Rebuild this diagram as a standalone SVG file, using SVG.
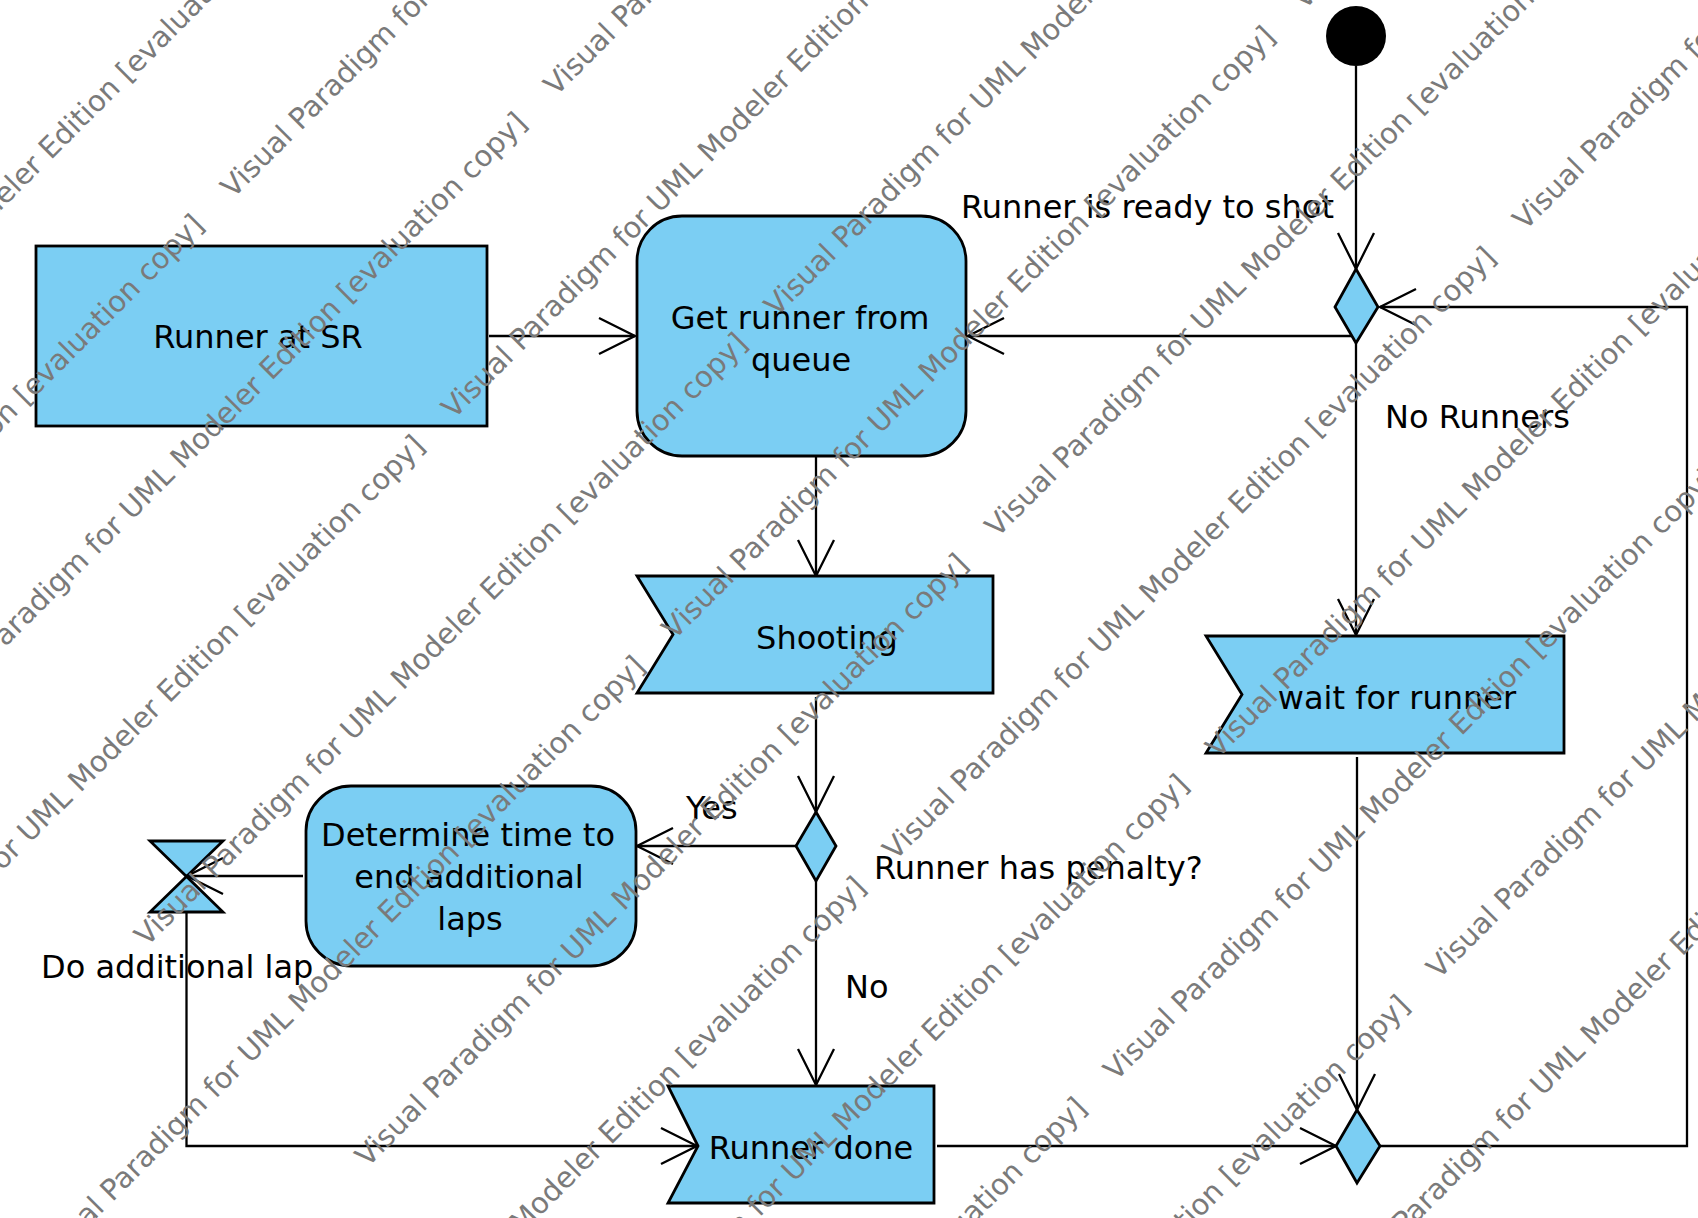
<svg xmlns="http://www.w3.org/2000/svg" width="1698" height="1218" viewBox="0 0 1698 1218">
<style>
.node{fill:#7BCEF3;stroke:#000;stroke-width:2.8}
.conn{fill:none;stroke:#000;stroke-width:2.3}
.lbl{font-family:"DejaVu Sans","Liberation Sans",sans-serif;font-size:32px;fill:#000}
.mid{text-anchor:middle}
.wm{font-family:"DejaVu Sans","Liberation Sans",sans-serif;font-size:29px;fill:#7a7a7a}
</style>
<defs>
<marker id="arr" markerUnits="userSpaceOnUse" viewBox="-40 -20 44 40" markerWidth="44" markerHeight="40" refX="0" refY="0" orient="auto" overflow="visible">
<path d="M-36,-18 L0,0 L-36,18" fill="none" stroke="#000" stroke-width="2.3"/>
</marker>
</defs>
<rect width="1698" height="1218" fill="#fff"/>

<g id="connectors">
<path class="conn" d="M1356,66 L1356,269" marker-end="url(#arr)"/>
<path class="conn" d="M1351,326 L1351,336 L968,336" marker-end="url(#arr)"/>
<path class="conn" d="M489,336 L635,336" marker-end="url(#arr)"/>
<path class="conn" d="M816,457 L816,576" marker-end="url(#arr)"/>
<path class="conn" d="M816,697 L816,812" marker-end="url(#arr)"/>
<path class="conn" d="M796,846 L637,846" marker-end="url(#arr)"/>
<path class="conn" d="M816,881 L816,1085" marker-end="url(#arr)"/>
<path class="conn" d="M303,876 L187,876" marker-end="url(#arr)"/>
<path class="conn" d="M186.5,912 L186.5,1146 L697,1146" marker-end="url(#arr)"/>
<path class="conn" d="M1356,343 L1356,635" marker-end="url(#arr)"/>
<path class="conn" d="M1357,757 L1357,1110" marker-end="url(#arr)"/>
<path class="conn" d="M937,1146 L1336,1146" marker-end="url(#arr)"/>
<path class="conn" d="M1380,1146 L1687,1146 L1687,307 L1380,307" marker-end="url(#arr)"/>
</g>

<g id="initial"><circle cx="1356" cy="36" r="30" fill="#000"/></g>

<g id="runner-at-sr">
<rect class="node" x="36" y="246" width="451" height="180"/>
<text class="lbl mid" x="258" y="348">Runner at SR</text>
</g>

<g id="get-runner">
<rect class="node" x="637" y="216" width="329" height="240" rx="45" ry="45"/>
<text class="lbl mid" x="800" y="329">Get runner from</text>
<text class="lbl mid" x="801" y="371">queue</text>
</g>

<g id="shooting">
<polygon class="node" points="637,576 993,576 993,693 637,693 673,634.5"/>
<text class="lbl mid" x="827" y="649">Shooting</text>
</g>

<g id="wait-for-runner">
<polygon class="node" points="1206,636 1564,636 1564,753 1206,753 1242,694.5"/>
<text class="lbl mid" x="1397" y="709">wait for runner</text>
</g>

<g id="determine">
<rect class="node" x="306" y="786" width="330" height="180" rx="45" ry="45"/>
<text class="lbl mid" x="468" y="846">Determine time to</text>
<text class="lbl mid" x="469" y="888">end additional</text>
<text class="lbl mid" x="470" y="930">laps</text>
</g>

<g id="runner-done">
<polygon class="node" points="668,1086 934,1086 934,1203 668,1203 698,1146"/>
<text class="lbl mid" x="811" y="1159">Runner done</text>
</g>

<g id="time-event">
<polygon class="node" points="150,841 223,841 186.5,876.5"/>
<polygon class="node" points="186.5,876.5 150,912 223,912"/>
<text class="lbl" x="41" y="978">Do additional lap</text>
</g>

<g id="decision-top">
<polygon class="node" points="1356,269 1378,307 1356,343 1335,307"/>
</g>
<g id="decision-penalty">
<polygon class="node" points="816,812 836,846 816,881 796,846"/>
</g>
<g id="merge-bottom">
<polygon class="node" points="1357,1110 1380,1146 1357,1183 1336,1146"/>
</g>

<g id="labels">
<text class="lbl" x="961" y="218">Runner is ready to shot</text>
<text class="lbl" x="1385" y="428">No Runners</text>
<text class="lbl" x="874" y="879">Runner has penalty?</text>
<text class="lbl" x="686" y="819">Yes</text>
<text class="lbl" x="845" y="998">No</text>
</g>

<g id="watermark" class="wm" transform="rotate(-45)">
<text x="-566.1" y="149.4">Visual Paradigm for UML Modeler Edition [evaluation copy]</text>
<text x="-866.7" y="305.5">Visual Paradigm for UML Modeler Edition [evaluation copy]</text>
<text x="24" y="305.5">Visual Paradigm for UML Modeler Edition [evaluation copy]</text>
<text x="-566.1" y="461.6">Visual Paradigm for UML Modeler Edition [evaluation copy]</text>
<text x="324.6" y="461.6">Visual Paradigm for UML Modeler Edition [evaluation copy]</text>
<text x="-866.7" y="617.6">Visual Paradigm for UML Modeler Edition [evaluation copy]</text>
<text x="24" y="617.6">Visual Paradigm for UML Modeler Edition [evaluation copy]</text>
<text x="-566.1" y="773.7">Visual Paradigm for UML Modeler Edition [evaluation copy]</text>
<text x="324.6" y="773.7">Visual Paradigm for UML Modeler Edition [evaluation copy]</text>
<text x="-866.7" y="929.7">Visual Paradigm for UML Modeler Edition [evaluation copy]</text>
<text x="24" y="929.7">Visual Paradigm for UML Modeler Edition [evaluation copy]</text>
<text x="914.7" y="929.7">Visual Paradigm for UML Modeler Edition [evaluation copy]</text>
<text x="-566.1" y="1085.8">Visual Paradigm for UML Modeler Edition [evaluation copy]</text>
<text x="324.6" y="1085.8">Visual Paradigm for UML Modeler Edition [evaluation copy]</text>
<text x="-866.7" y="1241.9">Visual Paradigm for UML Modeler Edition [evaluation copy]</text>
<text x="24" y="1241.9">Visual Paradigm for UML Modeler Edition [evaluation copy]</text>
<text x="914.7" y="1241.9">Visual Paradigm for UML Modeler Edition [evaluation copy]</text>
<text x="-566.1" y="1397.9">Visual Paradigm for UML Modeler Edition [evaluation copy]</text>
<text x="324.6" y="1397.9">Visual Paradigm for UML Modeler Edition [evaluation copy]</text>
<text x="-866.7" y="1554">Visual Paradigm for UML Modeler Edition [evaluation copy]</text>
<text x="24" y="1554">Visual Paradigm for UML Modeler Edition [evaluation copy]</text>
<text x="-566.1" y="1710">Visual Paradigm for UML Modeler Edition [evaluation copy]</text>
<text x="324.6" y="1710">Visual Paradigm for UML Modeler Edition [evaluation copy]</text>
<text x="24" y="1866.1">Visual Paradigm for UML Modeler Edition [evaluation copy]</text>
</g>
</svg>
